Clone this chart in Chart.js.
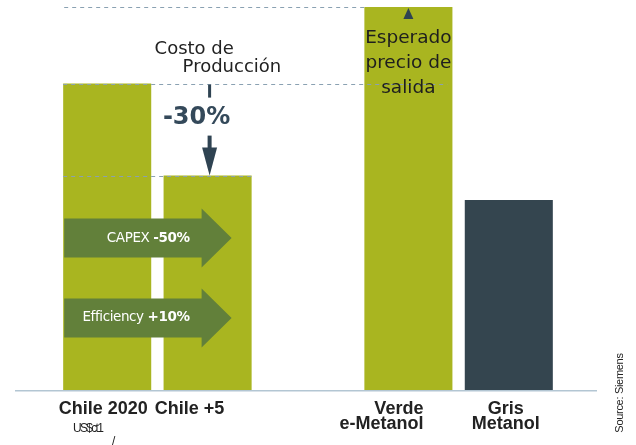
<!DOCTYPE html>
<html>
<head>
<meta charset="utf-8">
<script src="https://cdn.jsdelivr.net/npm/chart.js@4.4.1/dist/chart.umd.min.js"></script>
<style>
  html, body { margin: 0; background: #fff; }
  #wrap { width: 636px; height: 445px; position: relative; }
</style>
</head>
<body>
<div id="wrap"><canvas id="chart"></canvas></div>
<script>
// datos
const categories = ['Chile 2020', 'Chile +5', '', 'Verde e-Metanol', 'Gris Metanol'];
const labelLines = [['Chile 2020'], ['Chile +5'], [], ['Verde', 'e-Metanol'], ['Gris', 'Metanol']];
const costValues = [100, 70, null, 125, 62];
const barColors = ['#a9b520', '#a9b520', '#a9b520', '#a9b520', '#34454f'];
const leverLabels = [['CAPEX ', '-50%'], ['Efficiency ', '+10%']];
const leverLevels = [49.6, 23.5];
const reductionLabel = '-30%';
const costTitle = ['Costo de', 'Producción'];
const priceTitle = ['Esperado', 'precio de', 'salida'];
const unitLabel = 'US$ct1';
const sourceLabel = 'Source: Siemens';

const slate = '#2f4352';
const arrowGreen = '#62803a';
const dashColor = '#8aa1b2';

function dashed(ctx, x1, x2, y) {
  ctx.save();
  ctx.strokeStyle = dashColor;
  ctx.lineWidth = 1;
  ctx.setLineDash([4, 4]);
  ctx.beginPath();
  ctx.moveTo(x1, Math.round(y) + 0.5);
  ctx.lineTo(x2, Math.round(y) + 0.5);
  ctx.stroke();
  ctx.restore();
}

function leverArrow(ctx, left, tip, yc, parts) {
  const headStart = tip - 30;
  ctx.save();
  ctx.fillStyle = arrowGreen;
  ctx.beginPath();
  ctx.moveTo(left, yc - 19.5);
  ctx.lineTo(headStart, yc - 19.5);
  ctx.lineTo(headStart, yc - 29.5);
  ctx.lineTo(tip, yc);
  ctx.lineTo(headStart, yc + 29.5);
  ctx.lineTo(headStart, yc + 19.5);
  ctx.lineTo(left, yc + 19.5);
  ctx.closePath();
  ctx.fill();

  // texto blanco, parte normal + parte en negrita
  ctx.fillStyle = '#fff';
  ctx.textBaseline = 'middle';
  ctx.textAlign = 'left';
  const normal = '13.5px "DejaVu Sans"';
  const bold = 'bold 13.5px "DejaVu Sans"';
  ctx.letterSpacing = '-0.4px';
  ctx.font = normal;
  const w1 = ctx.measureText(parts[0]).width;
  ctx.font = bold;
  const w2 = ctx.measureText(parts[1]).width;
  const x0 = headStart - 12 - w1 - w2;
  ctx.font = normal;
  ctx.fillText(parts[0], x0, yc);
  ctx.font = bold;
  ctx.fillText(parts[1], x0 + w1, yc);
  ctx.restore();
}

const annotations = {
  id: 'annotations',
  afterDatasetsDraw(chart) {
    const ctx = chart.ctx;
    const y = chart.scales.y;
    const bars = chart.getDatasetMeta(0).data;
    const b0 = bars[0], b1 = bars[1], b3 = bars[3];
    const left0 = b0.x - b0.width / 2;

    // lineas de referencia
    dashed(ctx, left0 + 1, b3.x - b3.width / 2, y.getPixelForValue(costValues[3]));
    dashed(ctx, left0, b3.x + b3.width / 2 - 5, y.getPixelForValue(costValues[0]));
    dashed(ctx, left0, b1.x + b1.width / 2, y.getPixelForValue(costValues[1]));

    // flecha -30%
    const ax = b1.x + 2;
    const yTop = y.getPixelForValue(costValues[0]);
    const yLow = y.getPixelForValue(costValues[1]);
    ctx.save();
    ctx.fillStyle = slate;
    ctx.fillRect(ax - 1.5, yTop + 1, 3, 13);
    ctx.fillRect(ax - 2, yTop + 52, 4, 14);
    ctx.beginPath();
    ctx.moveTo(ax - 7.5, yTop + 64);
    ctx.lineTo(ax + 7.5, yTop + 64);
    ctx.lineTo(ax, yLow);
    ctx.closePath();
    ctx.fill();
    ctx.font = 'bold 24px "DejaVu Sans"';
    ctx.textAlign = 'center';
    ctx.textBaseline = 'alphabetic';
    ctx.fillStyle = '#34495a';
    ctx.fillText(reductionLabel, ax - 13, yTop + 40);

    // Costo de Producción
    ctx.fillStyle = '#222';
    ctx.font = '18px "DejaVu Sans"';
    ctx.textAlign = 'left';
    ctx.fillText(costTitle[0], ax - 55, 54);
    ctx.fillText(costTitle[1], ax - 27, 72);

    // Esperado precio de salida
    const vTop = y.getPixelForValue(costValues[3]);
    ctx.fillStyle = slate;
    ctx.beginPath();
    ctx.moveTo(b3.x, vTop + 1);
    ctx.lineTo(b3.x + 5, vTop + 12);
    ctx.lineTo(b3.x - 5, vTop + 12);
    ctx.closePath();
    ctx.fill();
    ctx.fillStyle = '#1e1e1e';
    ctx.font = '18.5px "DejaVu Sans"';
    ctx.textAlign = 'center';
    priceTitle.forEach((t, i) => ctx.fillText(t, b3.x, vTop + 36 + i * 25));
    ctx.restore();

    // flechas verdes
    leverLabels.forEach((parts, i) => {
      leverArrow(ctx, left0 + 1, b1.x + 24, y.getPixelForValue(leverLevels[i]), parts);
    });
  },
  afterDraw(chart) {
    const ctx = chart.ctx;
    const bars = chart.getDatasetMeta(0).data;
    const base = chart.chartArea.bottom;

    // linea base
    ctx.save();
    ctx.strokeStyle = '#b3c6d3';
    ctx.lineWidth = 1.5;
    ctx.beginPath();
    ctx.moveTo(15, base + 0.75);
    ctx.lineTo(597, base + 0.75);
    ctx.stroke();

    // etiquetas de categoria
    ctx.fillStyle = '#222';
    ctx.font = 'bold 18px "Liberation Sans"';
    ctx.textBaseline = 'alphabetic';
    const place = [
      { dx: -4, align: 'center' },
      { dx: -18, align: 'center' },
      { dx: 0, align: 'center' },
      { dx: 15, align: 'right' },
      { dx: -3, align: 'center' }
    ];
    labelLines.forEach((lines, i) => {
      ctx.textAlign = place[i].align;
      lines.forEach((t, j) => ctx.fillText(t, bars[i].x + place[i].dx, base + 24 + j * 15));
    });

    // unidad
    ctx.font = '12px "Liberation Sans"';
    ctx.letterSpacing = '-1.7px';
    ctx.textAlign = 'left';
    ctx.fillText(unitLabel, 73, 432);
    ctx.letterSpacing = '0px';
    ctx.fillText('/', 112, 445);

    // fuente
    ctx.translate(623, 393);
    ctx.rotate(-Math.PI / 2);
    ctx.font = '11px "Liberation Sans"';
    ctx.letterSpacing = '-0.3px';
    ctx.textAlign = 'center';
    ctx.fillText(sourceLabel, 0, 0);
    ctx.restore();
  }
};

new Chart(document.getElementById('chart'), {
  type: 'bar',
  data: {
    labels: categories,
    datasets: [{
      data: costValues,
      backgroundColor: barColors,
      borderWidth: 0,
      categoryPercentage: 1,
      barPercentage: 0.877
    }]
  },
  options: {
    responsive: true,
    maintainAspectRatio: false,
    animation: false,
    layout: { padding: { left: 57, right: 77, top: 7, bottom: 55 } },
    plugins: {
      legend: { display: false },
      tooltip: { enabled: false }
    },
    scales: {
      x: { display: false },
      y: { display: false, min: 0, max: 125 }
    }
  },
  plugins: [annotations]
});
</script>
</body>
</html>
